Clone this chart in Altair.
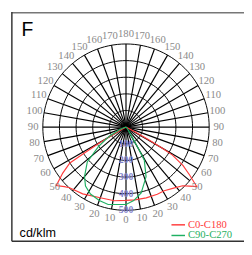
import altair as alt
import pandas as pd
import numpy as np

# ---------------- data (cd/klm), angle in degrees from nadir ----------------
# C0-C180 (red): right half / left half
red_r_ang = [0, 7, 16, 25, 31, 38, 44, 47, 50, 53, 56, 59, 60, 61, 62, 65, 70, 80, 90]
red_r_val = [440, 440, 442, 445, 446, 465, 490, 520, 555, 480, 414, 326, 250, 150, 60, 15, 5, 2, 0]
red_l_ang = [0, 9, 20, 33, 43, 46, 50, 54, 57.5, 58, 59, 60, 62, 70, 80, 90]
red_l_val = [440, 448, 452, 478, 498, 515, 547, 470, 400, 300, 200, 100, 30, 5, 2, 0]
# C90-C270 (green)
grn_r_ang = [0, 6, 13, 22, 29, 30, 32, 40, 60, 90]
grn_r_val = [465, 444, 406, 322, 227, 150, 60, 15, 3, 0]
grn_l_ang = [0, 13, 20, 28, 34.5, 40, 48, 55, 62, 70, 80, 90]
grn_l_val = [465, 477, 469, 455, 430, 388, 313, 200, 112, 40, 10, 0]

series_names = ["C0-C180", "C90-C270"]
series_colors = ["#ff3b3b", "#1fb062"]

ring_values = [100, 200, 300, 400, 500]
spoke_angles = list(range(0, 360, 10))
angle_labels = list(range(0, 190, 10))

# ---------------- layout helpers ----------------
W, H = 244, 247
CX, CY = 122, 119          # centre in chart pixels
K = 500 / 86.0             # data units per pixel
xdom = [-CX * K, (W - CX) * K]
ydom = [-(H - CY) * K, CY * K]
LBL_R = 96 * K

xs = alt.Scale(domain=xdom, nice=False, zero=False)
ys = alt.Scale(domain=ydom, nice=False, zero=False)


def X(f):
    return alt.X(f, type="quantitative", scale=xs, axis=None)


def Y(f):
    return alt.Y(f, type="quantitative", scale=ys, axis=None)


# series table
rows = []
for name, ang, val, sgn in [
    ("C0-C180", red_r_ang, red_r_val, 1), ("C0-C180", red_l_ang, red_l_val, -1),
    ("C90-C270", grn_r_ang, grn_r_val, 1), ("C90-C270", grn_l_ang, grn_l_val, -1),
]:
    for a, v in zip(ang, val):
        rows.append({"series": name, "ang": sgn * a, "val": v})
df = pd.DataFrame(rows).drop_duplicates(["series", "ang"])

# grid circles
circ = []
for r in ring_values:
    for t in range(0, 361, 3):
        circ.append({"ring": r, "t": t})
circ_df = pd.DataFrame(circ)

spoke_df = pd.DataFrame({"ang": spoke_angles})
lab_rows = []
for a in angle_labels:
    lab_rows.append({"lab": str(a), "ang": a})
    if a not in (0, 180):
        lab_rows.append({"lab": str(a), "ang": -a})
lab_df = pd.DataFrame(lab_rows)
val_df = pd.DataFrame({"v": ring_values})

color = alt.Color("series:N", scale=alt.Scale(domain=series_names, range=series_colors), legend=None)

rings = alt.Chart(circ_df).transform_calculate(
    x="datum.ring*sin(datum.t*PI/180)", y="-datum.ring*cos(datum.t*PI/180)"
).mark_line(color="black", strokeWidth=1).encode(
    x=X("x"), y=Y("y"), detail="ring:N", order="t:Q"
)

spokes = alt.Chart(spoke_df).transform_calculate(
    x2="500*sin(datum.ang*PI/180)", y2="-500*cos(datum.ang*PI/180)", z="0"
).mark_rule(color="black", strokeWidth=1.2).encode(
    x=X("z"), y=Y("z"), x2="x2:Q", y2="y2:Q"
)

curves = alt.Chart(df).transform_calculate(
    x="datum.val*sin(datum.ang*PI/180)", y="-datum.val*cos(datum.ang*PI/180)"
).mark_line(strokeWidth=1.2).encode(
    x=X("x"), y=Y("y"), color=color, detail="series:N", order="ang:Q"
)

alabels = alt.Chart(lab_df).transform_calculate(
    x=f"{LBL_R}*sin(datum.ang*PI/180)", y=f"-{LBL_R}*cos(datum.ang*PI/180)"
).mark_text(font="Liberation Serif", fontSize=11, color="#8a8a8a", baseline="middle", align="center").encode(
    x=X("x"), y=Y("y"), text="lab:N"
)

vlabels = alt.Chart(val_df).transform_calculate(
    x="0", y="-datum.v"
).mark_text(font="Liberation Serif", fontSize=10, fontWeight="bold", color="#8282cc", baseline="middle", align="center").encode(
    x=X("x"), y=Y("y"), text="v:N"
)

# legend rows
leg_df = pd.DataFrame({"series": series_names, "row": [0, 1]})
leg_y0 = (CY - (228 - 8)) * K
leg_dy = 11 * K
leg_lines = alt.Chart(leg_df).transform_calculate(
    y=f"{leg_y0} - datum.row*{leg_dy}", x1=f"{(169 - CX) * K}", x2=f"{(183 - CX) * K}"
).mark_rule(strokeWidth=1.5).encode(x=X("x1"), x2="x2:Q", y=Y("y"), color=color)
leg_text = alt.Chart(leg_df).transform_calculate(
    y=f"{leg_y0} - datum.row*{leg_dy}", x=f"{(186 - CX) * K}"
).mark_text(font="Liberation Serif", fontSize=11, align="left", baseline="middle").encode(
    x=X("x"), y=Y("y"), text="series:N", color=color
)

title_f = alt.Chart(pd.DataFrame({"t": ["F"]})).mark_text(
    font="Liberation Sans", fontSize=20, align="left", baseline="alphabetic", color="black"
).encode(x=alt.value(14), y=alt.value(25), text="t:N")
unit = alt.Chart(pd.DataFrame({"t": ["cd/klm"]})).mark_text(
    font="Liberation Sans", fontSize=13, align="left", baseline="alphabetic", color="black"
).encode(x=alt.value(12), y=alt.value(233), text="t:N")

frame_top = alt.Chart(pd.DataFrame({"a": [0]})).mark_rule(color="#777777", strokeWidth=1.5).encode(
    x=alt.value(4), x2=alt.value(W), y=alt.value(0.75))
frame_left = alt.Chart(pd.DataFrame({"a": [0]})).mark_rule(color="#333333", strokeWidth=1.5).encode(
    x=alt.value(4), y=alt.value(0), y2=alt.value(237))
frame_bot = alt.Chart(pd.DataFrame({"a": [0]})).mark_rule(color="#333333", strokeWidth=1.5).encode(
    x=alt.value(4), x2=alt.value(W), y=alt.value(237))

chart = alt.layer(
    rings, spokes, curves, alabels, vlabels, leg_lines, leg_text, title_f, unit,
    frame_top, frame_left, frame_bot
).properties(
    width=W, height=H, autosize=alt.AutoSizeParams(type="none"), padding=0
).configure_view(stroke="transparent")

chart.save("out.html", embed_options={"renderer": "svg", "actions": False})
